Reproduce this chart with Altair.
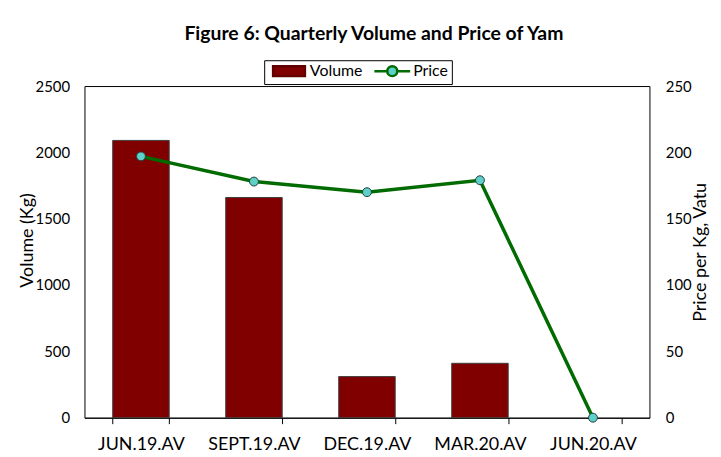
import altair as alt
import pandas as pd

quarters = ["JUN.19.AV", "SEPT.19.AV", "DEC.19.AV", "MAR.20.AV", "JUN.20.AV"]
volume_kg = [2090, 1660, 310, 410, 0]
price_vatu = [197, 178, 170, 179, 0]
series_names = ["Volume", "Price"]
volume_ticks = [0, 500, 1000, 1500, 2000, 2500]
price_ticks = [0, 50, 100, 150, 200, 250]

df = pd.DataFrame({"quarter": quarters, "volume": volume_kg, "price": price_vatu})
legend_df = pd.DataFrame({"series": series_names})

FONT = "Lato"
BAR = "#800000"
LINE = "#006b00"
DOT = "#5fd0c8"

# legend glyphs (custom symbol paths, unit = sqrt(size)/2 px)
VOL_PATH = "M-3.2,-1 H3.2 V1 H-3.2 Z"
PRICE_PATH = "M-3.6,0 H-1 M1,0 H3.6 M-1,0 A1,1 0 1,0 1,0 A1,1 0 1,0 -1,0 Z"

x_scale = alt.Scale(domain=quarters, paddingInner=0.5, paddingOuter=0.25)
x_axis = alt.Axis(title=None, labelAngle=0, labelFontSize=18, labelPadding=12,
                  tickBand="extent", tickSize=6, tickColor="black",
                  domainColor="black", labelColor="black", grid=False)

bars = alt.Chart(df).mark_bar(color=BAR, stroke="#404040", strokeWidth=1).encode(
    x=alt.X("quarter:N", scale=x_scale, axis=x_axis),
    y=alt.Y("volume:Q", scale=alt.Scale(domain=[0, 2500]),
            axis=alt.Axis(orient="left", values=volume_ticks, format="d", title="Volume (Kg)",
                          ticks=False, domain=False, grid=False,
                          labelFontSize=15, labelPadding=15,
                          titleFontSize=18, titleFontWeight="normal",
                          titleX=-57, titleY=155, titleAngle=270,
                          titleAlign="center", titleBaseline="middle")),
    strokeOpacity=alt.condition(alt.datum.volume > 0, alt.value(1), alt.value(0)),
)

line = alt.Chart(df).mark_line(
    color=LINE, strokeWidth=3.5,
    point=alt.OverlayMarkDef(filled=True, fill=DOT, stroke="#1f3f3f", strokeWidth=1, size=80, opacity=1),
).encode(
    x=alt.X("quarter:N", scale=x_scale, axis=x_axis),
    y=alt.Y("price:Q", scale=alt.Scale(domain=[0, 250]),
            axis=alt.Axis(orient="right", values=price_ticks, format="d", title="Price per Kg, Vatu",
                          ticks=False, domain=False, grid=False,
                          labelFontSize=15, labelPadding=16,
                          titleFontSize=18, titleFontWeight="normal",
                          titleX=51, titleY=167, titleAngle=270,
                          titleAlign="center", titleBaseline="middle")),
)

leg = alt.Legend(title=None, orient="none", legendX=181, legendY=-26,
                 direction="horizontal", strokeColor="black", fillColor="white",
                 padding=3, symbolSize=100, symbolOffset=14, labelOffset=13,
                 columnPadding=6, labelFontSize=16, labelFont=FONT,
                 symbolStrokeWidth=2.5, symbolOpacity=1, labelColor="black")

legend_layer = alt.Chart(legend_df).mark_point(filled=True, size=100, strokeWidth=2.5, opacity=1).transform_filter(
    "false"
).encode(
    shape=alt.Shape("series:N", scale=alt.Scale(domain=series_names, range=[VOL_PATH, PRICE_PATH]), legend=leg),
    fill=alt.Fill("series:N", scale=alt.Scale(domain=series_names, range=[BAR, DOT]), legend=leg),
    stroke=alt.Stroke("series:N", scale=alt.Scale(domain=series_names, range=["#600000", LINE]), legend=leg),
)

chart = alt.layer(bars, line, legend_layer).resolve_scale(y="independent").properties(
    width=569, height=334,
    title=alt.Title("Figure 6: Quarterly Volume and Price of Yam", fontSize=19.5, fontWeight="bold",
                    font=FONT, color="black", anchor="middle", frame="group", offset=0,
                    baseline="alphabetic", dx=7),
    padding={"left": 77, "top": 77, "right": 64, "bottom": 40},
    autosize=alt.AutoSizeParams(type="none"),
).configure(font=FONT, background="white").configure_view(
    stroke="black", strokeWidth=1
).configure_axis(labelFont=FONT, titleFont=FONT, labelColor="black", titleColor="black")

chart.save("out.html", embed_options={"renderer": "svg", "actions": False})
